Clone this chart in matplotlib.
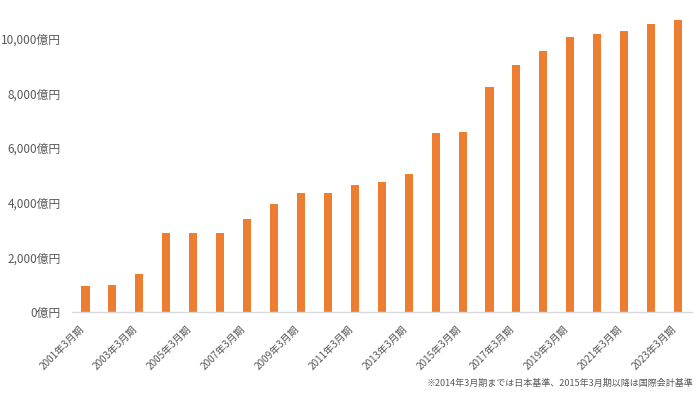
import matplotlib
matplotlib.use("Agg")
import matplotlib.pyplot as plt
from matplotlib.ticker import FuncFormatter

plt.rcParams['font.family'] = ['Noto Sans CJK JP', 'DejaVu Sans']

years = list(range(2001, 2024))
categories = [f"{y}年3月期" for y in years]
values = [950, 990, 1380, 2870, 2900, 2900, 3390, 3960, 4370, 4370,
          4660, 4740, 5060, 6570, 6580, 8250, 9060, 9560, 10070, 10190,
          10300, 10550, 10700]
yticks = [0, 2000, 4000, 6000, 8000, 10000]
footnote = "※2014年3月期までは日本基準、2015年3月期以降は国際会計基準"

fig = plt.figure(figsize=(7.0, 3.93), dpi=100)
ax_left = 72 / 700
ax_right = 691.5 / 700
ax_bottom = (393 - 311.7) / 393
px_per_1000 = 27.27
ymax = 11000
ax_height = (ymax / 1000 * px_per_1000) / 393
ax = fig.add_axes([ax_left, ax_bottom, ax_right - ax_left, ax_height])

x = list(range(len(categories)))
ax.bar(x, values, width=0.3, color='#ED7D31', zorder=2)

ax.set_xlim(-0.5, len(categories) - 0.5)
ax.set_ylim(0, ymax)
ax.set_yticks(yticks)
ax.yaxis.set_major_formatter(FuncFormatter(lambda v, p: f"{int(v):,}億円"))

ax.set_xticks(x[::2])
ax.set_xticklabels(categories[::2], rotation=45, ha='right', va='top')

for s in ['top', 'right', 'left']:
    ax.spines[s].set_visible(False)
ax.spines['bottom'].set_color('#D9D9D9')
ax.spines['bottom'].set_linewidth(1.0)

ax.tick_params(axis='y', length=0, pad=8, labelsize=8.5, labelcolor='#595959')
ax.tick_params(axis='x', length=0, pad=8.5, labelsize=7.2, labelcolor='#595959')
for lbl in ax.get_xticklabels():
    lbl.set_x(0)

fig.text(693 / 700, 1 - 383 / 393, footnote, ha='right', va='center',
         fontsize=6.5, color='#595959')

fig.savefig('out.png', dpi=100, facecolor='white')
